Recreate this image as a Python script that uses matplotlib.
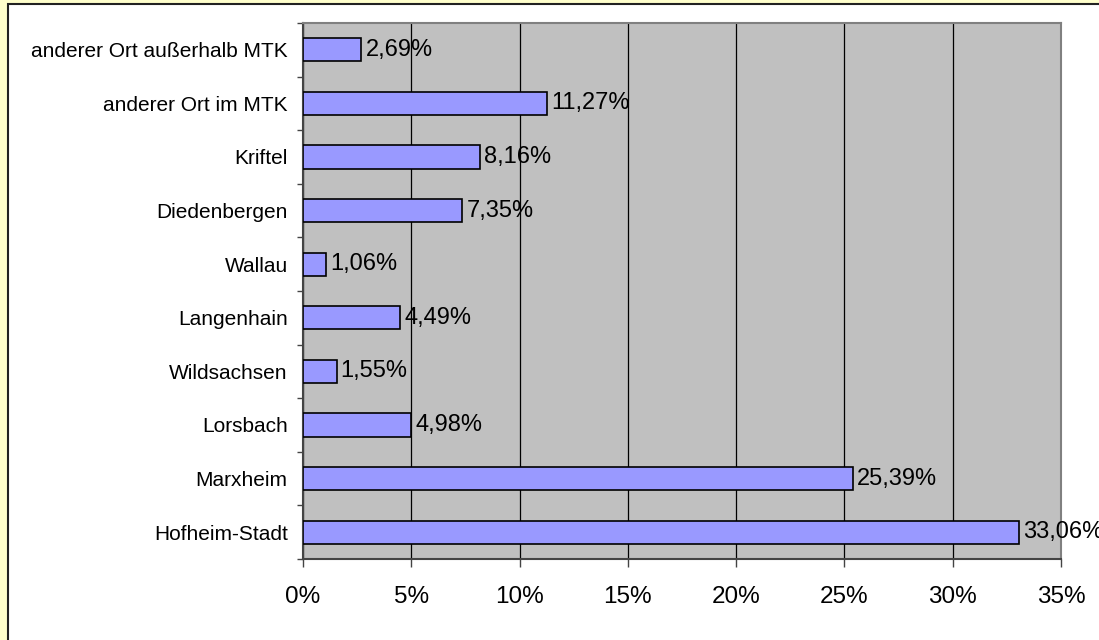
import matplotlib.pyplot as plt
from matplotlib.patches import Rectangle
from matplotlib.ticker import MultipleLocator, FuncFormatter

# Daten (von unten nach oben)
orte = ['Hofheim-Stadt', 'Marxheim', 'Lorsbach', 'Wildsachsen', 'Langenhain',
        'Wallau', 'Diedenbergen', 'Kriftel', 'anderer Ort im MTK',
        'anderer Ort außerhalb MTK']
anteile = [33.06, 25.39, 4.98, 1.55, 4.49, 1.06, 7.35, 8.16, 11.27, 2.69]

plt.rcParams['font.family'] = ['Liberation Sans', 'DejaVu Sans']

fig = plt.figure(figsize=(10.99, 6.4), dpi=100)
fig.patch.set_facecolor('#FFFFCC')

# weisser Diagrammbereich mit Rahmen
fig.patches.append(Rectangle((8 / 1099, -0.01), 1.02, (640 - 4) / 640 + 0.01,
                             transform=fig.transFigure, facecolor='white',
                             edgecolor='#222222', linewidth=1.5, zorder=-10))

ax = fig.add_axes([303 / 1099, 81 / 640, 758 / 1099, 536 / 640])
ax.set_facecolor('#C0C0C0')

pos = list(range(len(orte)))
bars = ax.barh(pos, anteile, height=0.43, color='#9999FF',
               edgecolor='black', linewidth=1.2, zorder=3)

for b, v in zip(bars, anteile):
    ax.annotate(f'{v:.2f}%'.replace('.', ','),
                (b.get_width(), b.get_y() + b.get_height() / 2),
                xytext=(3, 0), textcoords='offset points',
                va='center', ha='left', fontsize=17, zorder=4,
                annotation_clip=False)

ax.set_xlim(0, 35)
ax.set_ylim(-0.5, len(orte) - 0.5)
ax.xaxis.set_major_locator(MultipleLocator(5))
ax.xaxis.set_major_formatter(FuncFormatter(lambda x, p: f'{x:.0f}%'))
ax.grid(axis='x', color='black', linewidth=0.9, zorder=1)

ax.set_yticks(pos)
ax.set_yticklabels(orte, fontsize=15)
ax.set_yticks([p - 0.5 for p in pos] + [len(orte) - 0.5], minor=True)
ax.tick_params(axis='y', which='major', length=0, pad=11)
ax.tick_params(axis='y', which='minor', length=4.5, width=1, color='#444444')
ax.tick_params(axis='x', length=5.5, width=1, color='#444444', labelsize=17.5, pad=14)

for s in ['left', 'bottom']:
    ax.spines[s].set_color('#444444')
    ax.spines[s].set_linewidth(1.5)
for s in ['top', 'right']:
    ax.spines[s].set_color('#808080')
    ax.spines[s].set_linewidth(1.5)

fig.savefig('out.png', dpi=100, facecolor=fig.get_facecolor())
